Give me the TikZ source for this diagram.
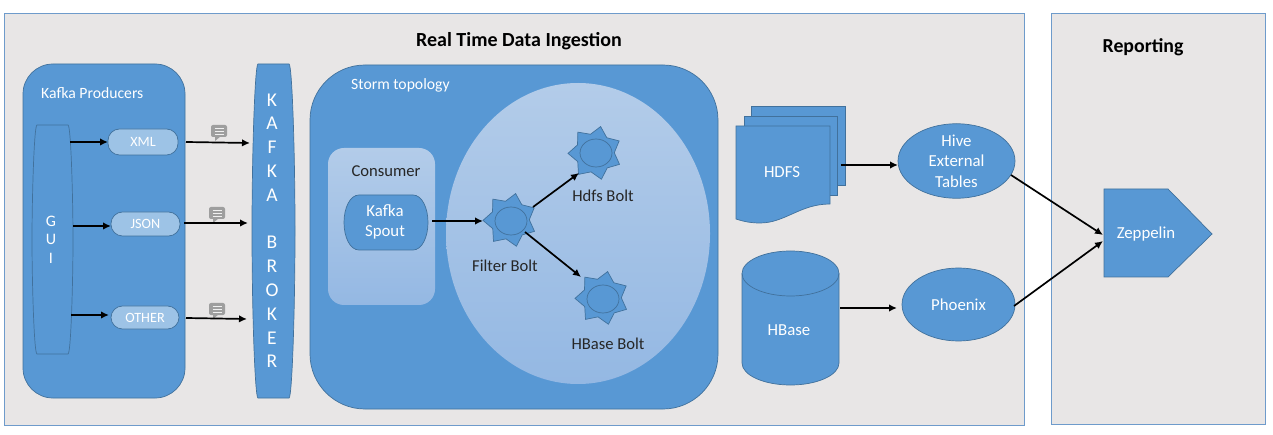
\documentclass[tikz,border=0pt]{standalone}
\usepackage{fontspec}
\setmainfont{Carlito}
\usetikzlibrary{arrows.meta,shapes.geometric,calc}
\definecolor{panelfill}{HTML}{E8E6E6}
\definecolor{panelline}{HTML}{6E9BCB}
\definecolor{blockblue}{HTML}{5898D4}
\definecolor{blockline}{HTML}{41719C}
\definecolor{palepill}{HTML}{9DC3E6}
\definecolor{lighttop}{HTML}{B3CCE9}
\definecolor{lightbot}{HTML}{94B8E3}
\definecolor{chatgray}{HTML}{9E9E9E}
\tikzset{
  panel/.style={draw=panelline,fill=panelfill,line width=0.7pt},
  block/.style={draw=blockline,fill=blockblue,line width=0.7pt},
  roundbox/.style={block,inner sep=0pt,outer sep=0pt,rounded corners=#1},
  pill/.style={draw=blockline,fill=palepill,line width=0.7pt,inner sep=0pt,outer sep=0pt,rounded corners=11.5pt,
     text=white,font=\fontsize{14.2}{16}\selectfont},
  ell/.style={block,ellipse,inner sep=0pt,outer sep=0pt,text=white,align=center,font=\fontsize{16.8}{20.5}\selectfont},
  seal/.style={block,star,star points=7,star point ratio=1.4,shape border rotate=-12,minimum size=#1,inner sep=0pt,outer sep=0pt},
  core/.style={draw=blockline,fill=blockblue,line width=0.7pt,ellipse,minimum width=32pt,minimum height=28pt,inner sep=0pt},
  conn/.style={-{Latex[length=8pt,width=7.5pt]},line width=1.7pt,black},
  wlabel/.style={text=white,font=\fontsize{15.7}{20}\selectfont,inner sep=0pt,align=center},
  bigwhite/.style={text=white,font=\fontsize{16.8}{20}\selectfont,inner sep=0pt,align=center},
  dlabel/.style={text=black!85,font=\fontsize{16.6}{20}\selectfont,inner sep=0pt,align=center},
  letters/.style={text=white,font=\fontsize{#1}{10}\selectfont,inner sep=0pt},
  chat/.pic={
    \fill[chatgray,rounded corners=2pt] (-8,-7) rectangle (8,5);
    \fill[chatgray] (-4,4) -- (-4,9) -- (2,4) -- cycle;
    \draw[white!85!chatgray,line width=0.8pt] (-4.5,-3.5) -- (4.5,-3.5) (-4.5,-0.7) -- (4.5,-0.7) (-4.5,2) -- (4.5,2);
  }
}
\begin{document}
\begin{tikzpicture}[x=1pt,y=-1pt]
\useasboundingbox (0,0) rectangle (1273,435);
\fill[white] (0,0) rectangle (1273,435);

% panels
\node[panel,minimum width=1020pt,minimum height=412pt,inner sep=0pt] (ingest) at (514,219) {};
\node[panel,minimum width=214pt,minimum height=411pt,inner sep=0pt] (report) at (1158,218.5) {};
\node[inner sep=0pt,font=\fontsize{20}{22}\bfseries] (ingesttitle) at (519,41.5) {Real Time Data Ingestion};
\node[inner sep=0pt,font=\fontsize{19.8}{22}\bfseries] (reporttitle) at (1143,47.5) {Reporting};

% producers
\node[roundbox=30pt,minimum width=162pt,minimum height=334pt] (producers) at (104,231) {};
\node[wlabel,anchor=west] (producerslabel) at (41,93.5) {Kafka Producers};
\node[inner sep=0pt,outer sep=0pt,minimum width=41pt,minimum height=229pt] (gui) at (52.5,239.5) {};
\draw[block] (37,125) -- (68,125) .. controls (71,125) and (73,200) .. (73,239.5)
  .. controls (73,280) and (71,354) .. (68,354) -- (37,354)
  .. controls (34,354) and (32,280) .. (32,239.5) .. controls (32,200) and (34,125) .. (37,125) -- cycle;
\node[letters=16] (g1) at (51,221) {G};
\node[letters=16] (g2) at (51,239) {U};
\node[letters=16] (g3) at (51,258) {I};

\node[pill,minimum width=70pt,minimum height=26pt] (xml) at (143,142) {XML};
\node[pill,minimum width=69pt,minimum height=24pt] (json) at (145.5,224) {JSON};
\node[pill,minimum width=68pt,minimum height=23pt] (other) at (145,317.5) {OTHER};

% broker
\node[inner sep=0pt,outer sep=0pt,minimum width=43pt,minimum height=334pt] (broker) at (273.5,231) {};
\draw[block] (258,64) -- (289,64) .. controls (292,64) and (295,150) .. (295,231)
  .. controls (295,312) and (292,398) .. (289,398) -- (258,398)
  .. controls (255,398) and (252,312) .. (252,231) .. controls (252,150) and (255,64) .. (258,64) -- cycle;
\foreach \ch/\yy/\nm in {K/100/b1,A/123/b2,F/147/b3,K/171/b4,A/195/b5,B/242/b6,R/266/b7,O/290/b8,K/314/b9,E/338/b10,R/361/b11}
  \node[letters=19.5] (\nm) at (272,\yy) {\ch};

% storm
\node[roundbox=55pt,minimum width=408pt,minimum height=344pt] (storm) at (514,237) {};
\node[wlabel,anchor=west] (stormlabel) at (351,85.5) {Storm topology};
\node[ellipse,draw=none,top color=lighttop,bottom color=lightbot,minimum width=264pt,minimum height=301pt,inner sep=0pt,outer sep=0pt] (bolts) at (578,233.5) {};
\node[rounded corners=16pt,draw=none,top color=lighttop,bottom color=lightbot,minimum width=107pt,minimum height=157pt,inner sep=0pt,outer sep=0pt] (consumer) at (381.5,226.5) {};
\node[dlabel] (consumerlabel) at (386,171) {Consumer};
\node[inner sep=0pt,outer sep=0pt,minimum width=84pt,minimum height=55pt] (spout) at (386,222.5) {};
\draw[block] (359,195) -- (413,195) .. controls (422,195) and (428,208) .. (428,222.5)
  .. controls (428,237) and (422,250) .. (413,250) -- (359,250)
  .. controls (350,250) and (344,237) .. (344,222.5) .. controls (344,208) and (350,195) .. (359,195) -- cycle;
\node[bigwhite] (spoutlabel) at (385,222) {Kafka\\Spout};

\node[seal=54pt] (filter) at (510,220) {};
\node[core] (filtercore) at (511,221) {};
\node[seal=54pt] (hdfsbolt) at (595,153) {};
\node[core] (hdfscore) at (596,153) {};
\node[seal=54pt] (hbasebolt) at (602,298) {};
\node[core] (hbasecore) at (603,299) {};
\node[dlabel] (filterlabel) at (505,266) {Filter Bolt};
\node[dlabel] (hdfslabel) at (603,196) {Hdfs Bolt};
\node[dlabel] (hbaselabel) at (608,344) {HBase Bolt};

% hdfs documents
\node[inner sep=0pt,outer sep=0pt,minimum width=109pt,minimum height=117pt] (hdfs) at (790.5,164.5) {};
\draw[block] (751,106) rectangle (845,185);
\draw[block] (744,116) rectangle (837,195);
\draw[block] (736,126) -- (830,126) -- (830,204) .. controls (800,204) and (785,223) .. (760,223) .. controls (752,223) and (745,222) .. (736,219) -- cycle;
\node[bigwhite] (hdfslabeltext) at (782,172) {HDFS};

% hbase cylinder
\node[inner sep=0pt,outer sep=0pt,minimum width=97pt,minimum height=134pt] (hbase) at (790.5,318) {};
\draw[block] (742,273.5) arc[start angle=180,end angle=360,x radius=48.5,y radius=22.5]
  -- (839,363) arc[start angle=0,end angle=180,x radius=48.5,y radius=22] -- cycle;
\draw[draw=blockline,line width=0.7pt] (742,273.5) arc[start angle=180,end angle=0,x radius=48.5,y radius=22.5];
\node[bigwhite] (hbaselabeltext) at (789,330) {HBase};

% hive, phoenix
\node[ell,minimum width=117pt,minimum height=72pt] (hive) at (956.5,161) {Hive\\External\\Tables};
\node[ell,minimum width=113pt,minimum height=73pt] (phoenix) at (958.5,304.5) {Phoenix};

% zeppelin
\node[inner sep=0pt,outer sep=0pt,minimum width=108pt,minimum height=88pt] (zeppelin) at (1158,233) {};
\draw[block] (1104,189) -- (1168,189) -- (1212,234) -- (1168,277) -- (1104,277) -- cycle;
\node[bigwhite] (zeppelinlabel) at (1146,234) {Zeppelin};

% chat icons
\pic at (219,132) {chat};
\pic at (217,214) {chat};
\pic at (217,310) {chat};

% connectors
\draw[conn] (gui.east |- xml.west) ++(-3,0) -- (xml.west);
\draw[conn] ($(gui.east |- json.west)+(0,2)$) -- ($(json.west)+(0,2)$);
\draw[conn] ($(gui.east |- other.west)+(-2,-2.5)$) -- ($(other.west)+(-2,-2.5)$);
\draw[conn] (xml.east) ++(8,0) -- ($(broker.west |- xml.east)+(-2,1)$);
\draw[conn] (json.east) ++(4,-1) -- ($(broker.west |- json.east)+(-4,-1)$);
\draw[conn] (other.east) ++(7,0.5) -- ($(broker.west |- other.east)+(-5,1.5)$);
\draw[conn] ($(spout.east)+(4,-1.5)$) -- ($(filter.center)+(-27,1)$);
\draw[conn] ($(filter.center)+(23,-13)$) -- ($(hdfsbolt.center)+(-16,20)$);
\draw[conn] ($(filter.center)+(15,12)$) -- ($(hbasebolt.center)+(-21,-21)$);
\draw[conn] ($(hdfs.east |- hive.west)+(-4,4)$) -- ($(hive.west)+(0,4)$);
\draw[conn] ($(hbase.east |- phoenix.west)+(1,3.5)$) -- ($(phoenix.west)+(-5,3.5)$);
\draw[conn] ($(hive.center)+(54.5,14)$) -- ($(zeppelin.west)+(-1,2)$);
\draw[conn] ($(phoenix.center)+(55.5,1.5)$) -- ($(zeppelin.west)+(-1,8)$);
\end{tikzpicture}
\end{document}
